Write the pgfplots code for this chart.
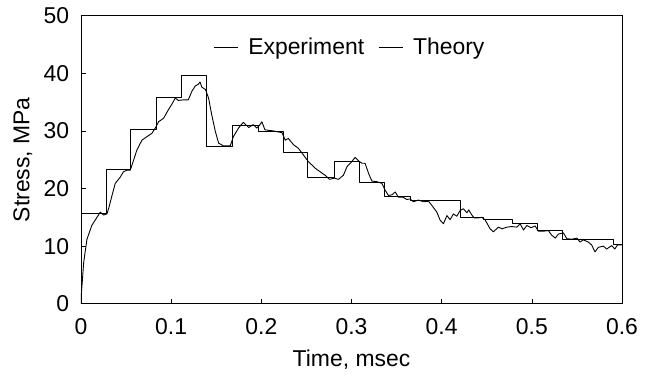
\documentclass[border=0pt]{standalone}
\usepackage{fontspec}
\setmainfont{Liberation Sans}
\usepackage{pgfplots}
\pgfplotsset{compat=1.18}
\begin{document}
\fontsize{23}{27}\selectfont
\begin{tikzpicture}
\begin{axis}[
  scale only axis,
  width=541bp, height=288bp,
  xmin=0, xmax=0.6, ymin=0, ymax=50,
  xtick={0,0.1,0.2,0.3,0.4,0.5,0.6},
  ytick={0,10,20,30,40,50},
  xticklabels={0,0.1,0.2,0.3,0.4,0.5,0.6},
  /pgf/number format/assume math mode=true,
  tick align=inside,
  xtick pos=bottom, ytick pos=left,
  major tick length=5bp,
  tick style={black, line width=0.6pt},
  axis line style={line width=0.8pt},
  yticklabel style={xshift=-4bp},
  xticklabel style={yshift=-7bp},
  xlabel={Time, msec},
  ylabel={Stress, MPa},
  xlabel style={yshift=0bp},
  ylabel style={yshift=-4bp},
  legend style={draw=none, fill=none, at={(rel axis cs:0.497,0.889)}, anchor=center,
    legend columns=2, font=\fontsize{23}{27}\selectfont,
    /tikz/every odd column/.append style={column sep=8bp},
    /tikz/every even column/.append style={column sep=12bp}},
  legend image code/.code={\draw[#1] (0bp,0bp) -- (24bp,0bp);},
  every axis plot/.append style={black, line width=0.9pt, line join=round},
]
\addplot[black, no marks] coordinates {
(0,0) (0.0005,1.9) (0.003,7.2) (0.0066,11.2) (0.012,13.6) (0.0177,15.0) (0.0214,15.9) (0.025,15.4) (0.0288,15.6)
(0.0306,16.5) (0.0344,18.8) (0.038,20.9) (0.0436,22.0) (0.047,22.9) (0.051,23.2) (0.0547,23.2)
(0.0583,24.9) (0.062,26.7) (0.0676,28.4) (0.073,29.0) (0.0787,29.6) (0.0824,30.5) (0.086,31.6)
(0.0916,32.2) (0.097,33.7) (0.101,34.7) (0.1045,35.7) (0.108,35.3) (0.1138,35.4) (0.119,35.4)
(0.123,36.9) (0.1267,37.8) (0.130,38.1) (0.132,38.5) (0.134,37.6) (0.138,37.2) (0.1415,35.7)
(0.145,32.8) (0.149,29.9) (0.1526,27.9) (0.158,27.4) (0.1655,27.4) (0.169,29.0) (0.1747,30.5)
(0.180,31.5) (0.186,30.6) (0.191,31.1) (0.195,30.5) (0.1985,31.1) (0.2006,31.6) (0.204,30.2)
(0.2135,30.0) (0.223,29.7) (0.2265,28.4) (0.2300,28.7) (0.2357,27.6) (0.241,27.0) (0.2468,25.8)
(0.252,24.7) (0.260,23.5) (0.2653,22.9) (0.2708,22.3) (0.2756,21.6) (0.281,21.8) (0.2856,21.6)
(0.291,22.3) (0.295,23.8) (0.3004,24.7) (0.304,25.4) (0.3078,24.8) (0.3115,24.4) (0.3150,24.4)
(0.319,22.6) (0.3226,21.3) (0.328,21.2) (0.3337,20.9) (0.3374,19.7) (0.341,18.8) (0.3448,18.9)
(0.3485,19.4) (0.352,18.5) (0.357,18.5) (0.3614,18.1) (0.365,18.2) (0.3687,17.7) (0.3743,18.0)
(0.38,17.7) (0.3854,17.8) (0.389,17.1) (0.3947,15.9) (0.3983,14.5) (0.402,13.9) (0.4058,15.3)
(0.4094,14.6) (0.413,15.6) (0.4168,15.2) (0.4205,16.2) (0.424,16.5) (0.428,15.8) (0.430,16.3)
(0.4335,15.4) (0.436,14.9) (0.440,14.9) (0.4446,15.0) (0.448,14.6) (0.4538,13.0) (0.4574,12.5)
(0.463,13.3) (0.467,13.0) (0.4723,13.3) (0.4778,13.4) (0.4834,13.3) (0.487,13.9) (0.4907,12.8)
(0.4945,13.6) (0.499,13.2) (0.5037,13.5) (0.5073,12.6) (0.513,12.6) (0.5184,12.7) (0.522,11.9)
(0.526,11.4) (0.5295,12.1) (0.535,12.3) (0.5388,11.3) (0.5443,11.2) (0.55,11.4) (0.5535,10.7)
(0.557,11.1) (0.5627,10.7) (0.5664,10.2) (0.57,9.0) (0.5738,9.8) (0.5794,10.0) (0.583,9.5)
(0.5886,10.1) (0.592,9.5) (0.595,10.2) (0.6,10.2)
};
\addlegendentry{Experiment}
\addplot[black, no marks] coordinates {
(0,0) (0,15.6) (0.0277,15.6) (0.0277,23.3) (0.0547,23.3) (0.0547,30.2) (0.0835,30.2)
(0.0835,35.8) (0.111,35.8) (0.111,39.6) (0.139,39.6) (0.139,27.3) (0.168,27.3) (0.168,31.0)
(0.197,31.0) (0.197,30.0) (0.224,30.0) (0.224,26.2) (0.251,26.2) (0.251,22.0) (0.281,22.0)
(0.281,24.7) (0.309,24.7) (0.309,21.0) (0.337,21.0) (0.337,18.7) (0.365,18.7) (0.365,17.9)
(0.4205,17.9) (0.4205,14.9) (0.446,14.9) (0.446,14.6) (0.478,14.6) (0.478,14.0) (0.506,14.0)
(0.506,12.7) (0.534,12.7) (0.534,11.2) (0.591,11.2) (0.591,10.3) (0.6,10.3)
};
\addlegendentry{Theory}
\coordinate (bl) at (rel axis cs:0,0);
\end{axis}
\path (bl) ++(-81bp,-75bp) rectangle ++(661bp,376bp);
\end{tikzpicture}
\end{document}
